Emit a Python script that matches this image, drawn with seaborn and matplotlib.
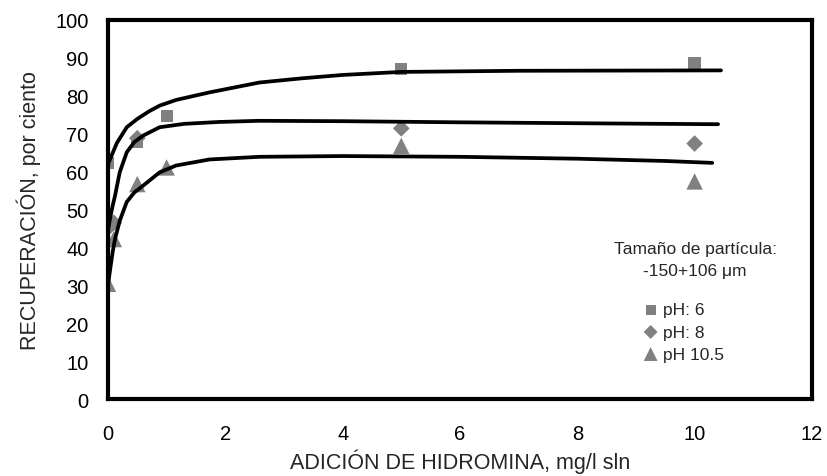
import numpy as np
import pandas as pd
import matplotlib
matplotlib.use('Agg')
import matplotlib.pyplot as plt
import seaborn as sns

# measured points
dose_ph6 = [0, 0.5, 1, 5, 10]
rec_ph6 = [62.3, 67.8, 74.7, 87.0, 88.5]
dose_ph8 = [0, 0.1, 0.5, 5, 10]
rec_ph8 = [45.1, 46.5, 68.8, 71.4, 67.4]
dose_ph105 = [0, 0.1, 0.5, 1, 5, 10]
rec_ph105 = [30.4, 42.2, 56.7, 61.1, 66.8, 57.4]

# fitted curves
fit_x6 = [0, 0.05, 0.15, 0.32, 0.5, 0.7, 0.88, 1.16, 1.73, 2.58, 3.3, 4.0, 5.0, 7.0, 10.45]
fit_y6 = [62.0, 63.8, 67.5, 71.7, 73.9, 75.9, 77.4, 78.9, 80.9, 83.5, 84.6, 85.5, 86.3, 86.6, 86.7]
fit_x8 = [0, 0.04, 0.08, 0.12, 0.2, 0.32, 0.45, 0.6, 0.88, 1.3, 1.9, 2.58, 4.0, 6.0, 8.5, 10.4]
fit_y8 = [44.5, 48.0, 51.0, 53.6, 59.8, 65.1, 67.8, 69.5, 71.7, 72.6, 73.1, 73.4, 73.3, 73.0, 72.7, 72.5]
fit_x105 = [0, 0.04, 0.08, 0.12, 0.2, 0.32, 0.45, 0.6, 0.88, 1.16, 1.73, 2.58, 4.0, 6.0, 8.0, 9.5, 10.3]
fit_y105 = [30.0, 34.5, 38.8, 42.2, 47.0, 52.0, 54.5, 56.3, 59.8, 61.6, 63.2, 63.9, 64.1, 63.9, 63.4, 62.8, 62.3]

sns.set_style('white')
plt.rcParams['font.family'] = ['Liberation Sans', 'DejaVu Sans']

fig = plt.figure(figsize=(8.28, 4.77), dpi=100)
ax = fig.add_axes([0.1304, 0.1614, 0.8502, 0.7946])

for fx, fy in [(fit_x6, fit_y6), (fit_x8, fit_y8), (fit_x105, fit_y105)]:
    sns.lineplot(x=fx, y=fy, ax=ax, color='black', linewidth=2.7,
                 sort=False, estimator=None, zorder=3, solid_capstyle='round')

grey = '#808080'
sns.scatterplot(x=dose_ph6, y=rec_ph6, ax=ax, marker='s', s=78, color=grey,
                edgecolor='none', label='pH: 6', zorder=2)
sns.scatterplot(x=dose_ph8, y=rec_ph8, ax=ax, marker='D', s=72, color=grey,
                edgecolor='none', label='pH: 8', zorder=2)
sns.scatterplot(x=dose_ph105, y=rec_ph105, ax=ax, marker='^', s=140, color=grey,
                edgecolor='none', label='pH 10.5', zorder=2)

ax.set_xlim(0, 12)
ax.set_ylim(0, 100)
ax.set_xticks(np.arange(0, 13, 2))
ax.set_yticks(np.arange(0, 101, 10))
ax.tick_params(direction='in', length=5, width=2.5, labelsize=14.5, colors='black')
ax.tick_params(axis='x', pad=18)
ax.tick_params(axis='y', pad=14)
for sp in ax.spines.values():
    sp.set_visible(True)
    sp.set_color('black')
    sp.set_linewidth(3)

ax.set_xlabel('ADICIÓN DE HIDROMINA, mg/l sln', fontsize=15.5, labelpad=4)
ax.set_ylabel('RECUPERACIÓN, por ciento', fontsize=15.5, labelpad=10)

ax.text(0.835, 0.396, 'Tamaño de partícula:', transform=ax.transAxes,
        ha='center', va='center', fontsize=12.5)
ax.text(0.833, 0.338, '-150+106 μm', transform=ax.transAxes,
        ha='center', va='center', fontsize=12.5)

leg = ax.legend(loc='center left', bbox_to_anchor=(0.761, 0.177), frameon=False,
                fontsize=12.5, handletextpad=0.3, labelspacing=0.4,
                borderaxespad=0, borderpad=0, handlelength=0.8)
for h, sz in zip(leg.legend_handles, [52, 50, 100]):
    h.set_sizes([sz])

fig.savefig('out.png', dpi=100)
